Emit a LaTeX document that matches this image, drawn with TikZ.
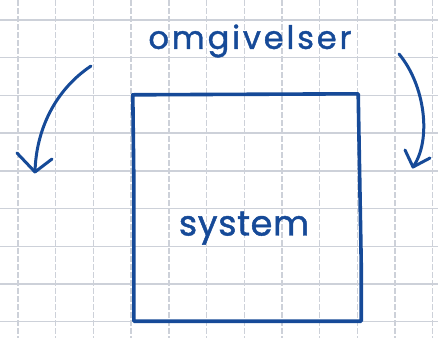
\documentclass[tikz,border=0pt]{standalone}
\usepackage{fontspec}
\setmainfont{Poppins}
\usetikzlibrary{arrows.meta}
\definecolor{ink}{RGB}{22,74,152}
\definecolor{gridc}{RGB}{205,209,217}
\tikzset{
  gridh/.style={draw=gridc,line width=1.4pt},
  gridv/.style={draw=gridc,line width=1.4pt,dash pattern=on 6pt off 2pt},
  pen/.style={draw=ink,line width=3pt,line cap=round,line join=round},
  hand/.style={text=ink,inner sep=0pt}
}
\begin{document}
\begin{tikzpicture}[x=1pt,y=-1pt]
\useasboundingbox (0,0) rectangle (438,338);
\fill[white] (0,0) rectangle (438,338);
% grid
\foreach \i in {0,...,11} {
  \draw[gridv] ({18+37.7*\i},0) -- ({18+37.7*\i},338);
}
\foreach \j in {0,...,8} {
  \draw[gridh] (0,{20+37.7*\j}) -- (438,{20+37.7*\j});
}
% system box
\node[minimum width=226pt,minimum height=226pt,inner sep=0pt] (sys) at (246,208) {};
\draw[pen,line width=3.6pt] (sys.north west) -- ([xshift=-1pt,yshift=1pt]sys.north east)
  -- ([xshift=2pt,yshift=-55pt]sys.east) -- ([xshift=2pt]sys.south east)
  -- ([xshift=1pt]sys.south west) -- ([xshift=1pt,yshift=30pt]sys.west) -- cycle;
% labels
\node[hand,font=\fontsize{32}{32}\selectfont\addfontfeatures{LetterSpace=9,FakeBold=1.3}] (omg) at (250,41) {omgivelser};
\node[hand,font=\fontsize{35}{35}\selectfont\addfontfeatures{LetterSpace=2,FakeBold=1.3}] (systxt) at (244,228) {system};
% arrows
\coordinate (l0) at (91,66);
\coordinate (l1) at (35,172);
\coordinate (la) at (17,153);
\coordinate (lb) at (52,159);
\coordinate (r0) at (399,54);
\coordinate (r1) at (413,167);
\coordinate (ra) at (405,150);
\coordinate (rb) at (430,158);
\draw[pen] (l0) .. controls (55,90) and (36,130) .. (l1);
\draw[pen] (la) -- (l1) -- (lb);
\draw[pen] (r0) .. controls (425,85) and (432,140) .. (r1);
\draw[pen] (ra) -- (r1) -- (rb);
\end{tikzpicture}
\end{document}
